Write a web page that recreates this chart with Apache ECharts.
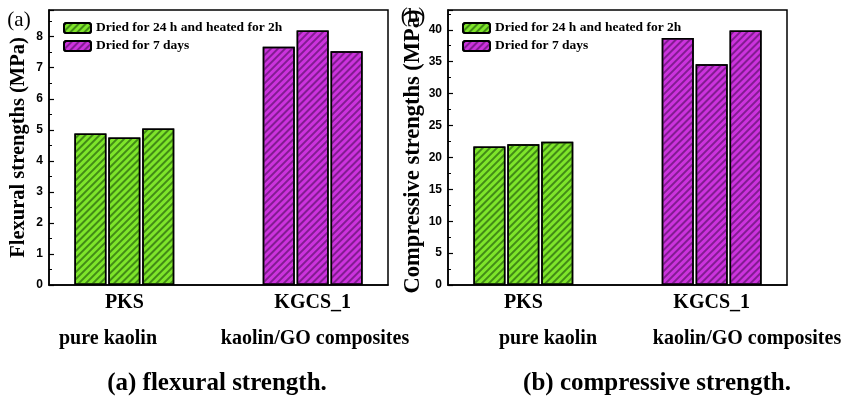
<!DOCTYPE html>
<html>
<head>
<meta charset="utf-8">
<script src="https://cdn.jsdelivr.net/npm/echarts@6/dist/echarts.min.js"></script>
<style>
  html, body { margin: 0; padding: 0; background: #fff; }
  #chart { width: 844px; height: 399px; }
</style>
</head>
<body>
<div id="chart"></div>
<script>
// ---- data ----
const categories = ['PKS', 'KGCS_1'];
const groupDescriptions = ['pure kaolin', 'kaolin/GO composites'];
const legendNames = ['Dried for 24 h and heated for 2h', 'Dried for 7 days'];
const flexuralPKS = [4.88, 4.75, 5.04];
const flexuralKGCS = [7.68, 8.20, 7.53];
const compressivePKS = [21.7, 22.05, 22.46];
const compressiveKGCS = [38.7, 34.6, 39.9];
const panelLabels = ['(a)', '(b)'];
const panelCaptions = ['(a) flexural strength.', '(b) compressive strength.'];
const yAxisNames = ['Flexural strengths (MPa)', 'Compressive strengths (MPa)'];

// ---- styles ----
const SERIF = '"Liberation Serif", "Times New Roman", serif';
const SANS = '"Liberation Sans", Arial, sans-serif';
const fills = ['#7ee52a', '#cc33dd'];
const hatch = ['rgba(45,110,15,0.75)', 'rgba(105,20,120,0.75)'];
function groupStyle(g) {
  return {
    color: fills[g],
    borderColor: '#000',
    borderWidth: 1.5,
    decal: {
      symbol: 'rect',
      symbolSize: 1,
      dashArrayX: [1, 0],
      dashArrayY: [1.3, 2.3],
      rotation: -Math.PI / 4,
      color: hatch[g]
    }
  };
}

const grids = [
  { left: 49, right: 456, top: 10, bottom: 114 },
  { left: 448, right: 57, top: 10, bottom: 114 },
  { left: 0, top: 0, width: 1, height: 1, show: false }
];
grids.slice(0, 2).forEach(g => { g.show = true; g.borderColor = '#000'; g.borderWidth = 1.5; });

function xAxisFor(i) {
  return {
    type: 'value', gridIndex: i, min: 0.6, max: 2.4,
    axisLine: { show: true, lineStyle: { color: '#000', width: 1.5 } },
    axisTick: { show: false },
    splitLine: { show: false },
    axisLabel: {
      customValues: categories.map((c, k) => k + 1),
      formatter: v => categories[Math.round(v) - 1] || '',
      color: '#000', fontFamily: SERIF, fontWeight: 'bold', fontSize: 20, margin: 8
    }
  };
}
function yAxisFor(i, max, interval, name, nameSize, namePad) {
  return {
    type: 'value', gridIndex: i, min: 0, max: max, interval: interval,
    name: name, nameLocation: 'middle', nameGap: 20,
    nameTextStyle: { fontFamily: SERIF, fontWeight: 'bold', fontSize: nameSize, color: '#000', padding: namePad },
    axisLine: { show: true, lineStyle: { color: '#000', width: 1.5 } },
    axisTick: { show: true, inside: true, length: 5, lineStyle: { color: '#000', width: 1.2 } },
    minorTick: { show: true, splitNumber: 2, length: 3, lineStyle: { color: '#000', width: 1 } },
    splitLine: { show: false },
    axisLabel: { showMaxLabel: false, color: '#000', fontFamily: SANS, fontWeight: 'bold', fontSize: 12, margin: 6 }
  };
}

function replicateSeries(panel, pks, kgcs) {
  const groups = [pks, kgcs];
  return pks.map((_, r) => ({
    type: 'bar',
    name: 'rep' + (r + 1),
    xAxisIndex: panel, yAxisIndex: panel,
    barWidth: 32,
    barGap: '6%',
    silent: true,
    data: groups.map((vals, g) => ({ value: [g + 1, vals[r]], itemStyle: groupStyle(g) }))
  }));
}

const legendSeries = legendNames.map((n, g) => ({
  type: 'bar', name: n, xAxisIndex: 2, yAxisIndex: 2, data: [], itemStyle: groupStyle(g)
}));

function legendAt(left) {
  return {
    left: left, top: 16, orient: 'vertical', itemWidth: 27, itemHeight: 10, itemGap: 4,
    selectedMode: false,
    data: legendNames,
    textStyle: { fontFamily: SERIF, fontWeight: 'bold', fontSize: 13.5, color: '#000' }
  };
}

function txt(x, y, text, size, weight) {
  return {
    type: 'text', x: x, y: y,
    style: { text: text, fontFamily: SERIF, fontWeight: weight, fontSize: size, fill: '#000', align: 'center', verticalAlign: 'middle' }
  };
}

const chart = echarts.init(document.getElementById('chart'), null, { renderer: 'canvas' });
chart.setOption({
  animation: false,
  backgroundColor: '#fff',
  grid: grids,
  xAxis: [xAxisFor(0), xAxisFor(1), { type: 'category', gridIndex: 2, show: false, data: [] }],
  yAxis: [
    yAxisFor(0, 8.86, 1, yAxisNames[0], 20.5, [0, 0, 0, 0]),
    yAxisFor(1, 43.1, 5, yAxisNames[1], 22.5, [0, 8, 0, 0]),
    { type: 'value', gridIndex: 2, show: false }
  ],
  legend: [legendAt(58), legendAt(457)],
  series: [
    ...replicateSeries(0, flexuralPKS, flexuralKGCS),
    ...replicateSeries(1, compressivePKS, compressiveKGCS),
    ...legendSeries
  ],
  graphic: [
    txt(19, 20, panelLabels[0], 21, 'normal'),
    txt(413, 16, panelLabels[1], 21, 'normal'),
    txt(108, 339, groupDescriptions[0], 20, 'bold'),
    txt(315, 339, groupDescriptions[1], 20, 'bold'),
    txt(548, 339, groupDescriptions[0], 20, 'bold'),
    txt(747, 339, groupDescriptions[1], 20, 'bold'),
    txt(217, 384, panelCaptions[0], 25, 'bold'),
    txt(657, 384, panelCaptions[1], 25, 'bold')
  ]
});
</script>
</body>
</html>
